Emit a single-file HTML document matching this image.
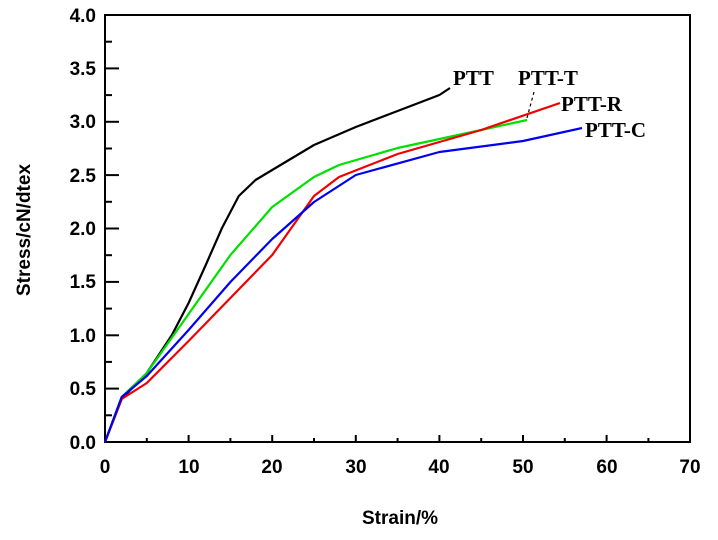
<!DOCTYPE html><html><head><style>body{margin:0;background:#fff}</style></head><body>
<svg width="718" height="535" xmlns="http://www.w3.org/2000/svg" font-family="Liberation Sans, sans-serif">
<rect x="105" y="15" width="585" height="427" fill="none" stroke="#000" stroke-width="2"/>
<g stroke="#000" stroke-width="2">
<line x1="188.6" y1="442" x2="188.6" y2="435"/><line x1="272.2" y1="442" x2="272.2" y2="435"/><line x1="355.8" y1="442" x2="355.8" y2="435"/><line x1="439.4" y1="442" x2="439.4" y2="435"/><line x1="523" y1="442" x2="523" y2="435"/><line x1="606.6" y1="442" x2="606.6" y2="435"/>
<line x1="146.8" y1="442" x2="146.8" y2="438"/><line x1="230.4" y1="442" x2="230.4" y2="438"/><line x1="314" y1="442" x2="314" y2="438"/><line x1="397.6" y1="442" x2="397.6" y2="438"/><line x1="481.2" y1="442" x2="481.2" y2="438"/><line x1="564.8" y1="442" x2="564.8" y2="438"/><line x1="648.4" y1="442" x2="648.4" y2="438"/>
<line x1="105" y1="68.4" x2="119" y2="68.4"/><line x1="105" y1="121.8" x2="119" y2="121.8"/><line x1="105" y1="175.1" x2="119" y2="175.1"/><line x1="105" y1="228.5" x2="119" y2="228.5"/><line x1="105" y1="281.9" x2="119" y2="281.9"/><line x1="105" y1="335.3" x2="119" y2="335.3"/><line x1="105" y1="388.6" x2="119" y2="388.6"/>
<line x1="105" y1="41.7" x2="112" y2="41.7"/><line x1="105" y1="95.1" x2="112" y2="95.1"/><line x1="105" y1="148.5" x2="112" y2="148.5"/><line x1="105" y1="201.8" x2="112" y2="201.8"/><line x1="105" y1="255.2" x2="112" y2="255.2"/><line x1="105" y1="308.6" x2="112" y2="308.6"/><line x1="105" y1="361.9" x2="112" y2="361.9"/><line x1="105" y1="415.3" x2="112" y2="415.3"/>
</g>
<g font-size="19" font-weight="bold" text-anchor="end">
<text x="96" y="22">4.0</text><text x="96" y="75">3.5</text><text x="96" y="128">3.0</text><text x="96" y="182">2.5</text><text x="96" y="235">2.0</text><text x="96" y="288">1.5</text><text x="96" y="342">1.0</text><text x="96" y="395">0.5</text><text x="96" y="449">0.0</text>
</g>
<g font-size="19" font-weight="bold" text-anchor="middle">
<text x="105" y="473">0</text><text x="189" y="473">10</text><text x="272" y="473">20</text><text x="356" y="473">30</text><text x="439" y="473">40</text><text x="523" y="473">50</text><text x="607" y="473">60</text><text x="690" y="473">70</text>
<text x="400" y="524">Strain/%</text>
<text transform="translate(30,230) rotate(-90)">Stress/cN/dtex</text>
</g>
<g fill="none" stroke-width="2.2" stroke-linejoin="round">
<polyline stroke="#000" points="105,442 121.7,399 146.8,373 171.9,335 188.6,303 205.3,266 222,228 238.8,196 255.5,180 272.2,170 314,145 355.8,127 397.6,111 439.4,95 450,88"/>
<polyline stroke="#00e000" points="105,442 121.7,397 146.8,373 188.6,314 230.4,255 272.2,207 314,177 339,165 397.6,148 481.2,130 527,120"/>
<polyline stroke="#f00000" points="105,442 121.7,399 146.8,383 188.6,341 230.4,298 272.2,255 314,196 339,177 397.6,154 481.2,130 560,103"/>
<polyline stroke="#0000f0" points="105,442 121.7,397 146.8,376 188.6,330 230.4,282 272.2,239 314,202 355.8,175 439.4,152 523,141 582,128"/>
</g>
<line x1="527" y1="118" x2="534" y2="92" stroke="#000" stroke-width="1.2" stroke-dasharray="3,3"/>
<g font-family="Liberation Serif, serif" font-size="21" font-weight="bold">
<text x="453" y="85">PTT</text><text x="518" y="85">PTT-T</text><text x="561" y="111">PTT-R</text><text x="585" y="137">PTT-C</text>
</g>
</svg></body></html>
